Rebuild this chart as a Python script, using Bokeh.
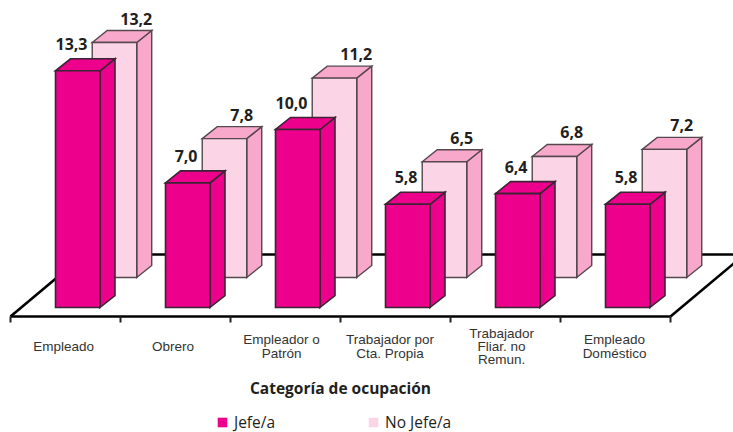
from bokeh.plotting import figure
from bokeh.models import Legend, LegendItem, Range1d
from bokeh.core.properties import value
from bokeh.embed import file_html
from bokeh.resources import INLINE

categories = ["Empleado", "Obrero", "Empleador o\nPatrón", "Trabajador por\nCta. Propia",
              "Trabajador\nFliar. no\nRemun.", "Empleado\nDoméstico"]
jefe = [13.3, 7.0, 10.0, 5.8, 6.4, 5.8]
no_jefe = [13.2, 7.8, 11.2, 6.5, 6.8, 7.2]
series_names = ["Jefe/a", "No Jefe/a"]
axis_title = "Categoría de ocupación"
label_centres = [0.482, 0.477, 0.464, 0.45, 0.464, 0.491]

W, H = 733, 432
PX_X, PX_Y = 110.0, 17.8      # pixels per category / per unit
X0_PX, Y0_PX = 10.0, 307.0    # window position of category 0 / value 0


def fx(px):
    return (px - X0_PX) / PX_X


def fy(py):
    return (Y0_PX - py) / PX_Y


DX, DY = 15 / PX_X, 12 / PX_Y
BAR_W = 44.5 / PX_X
FRONT_OFF, BACK_OFF = 0.409, 0.743
BACK_BASE = 30 / PX_Y

MAGENTA, MAGENTA_EDGE = "#EC008C", "#3B2433"
LIGHT, LIGHT_SIDE, LIGHT_EDGE = "#FBD5E6", "#F7A8CB", "#55474E"
INK = "#231F20"

p = figure(width=W, height=H, output_backend="svg", toolbar_location=None,
           x_range=Range1d(fx(0), fx(W)), y_range=Range1d(fy(H), fy(0)),
           x_axis_location=None, y_axis_location=None, min_border=0,
           outline_line_color=None)
p.grid.visible = False
p.background_fill_color = "white"

# floor
front_y, back_y = fy(316), fy(254)
n = len(categories)
floor_dx = 74 / PX_X
p.multi_line([[floor_dx, fx(750)], [0, n], [0, floor_dx], [n, n + floor_dx]],
             [[back_y, back_y], [front_y, front_y], [front_y, back_y], [front_y, back_y]],
             line_color="black", line_width=2.6)
p.segment(x0=list(range(n + 1)), y0=[front_y] * (n + 1), x1=list(range(n + 1)),
          y1=[fy(322)] * (n + 1), line_color="#222222", line_width=2)


def bars(vals, offset, base, face, side, top, edge, lw):
    xs_f, ys_f, xs_s, ys_s, xs_t, ys_t = [], [], [], [], [], []
    for i, v in enumerate(vals):
        l = i + offset
        r = l + BAR_W
        t = base + v
        xs_f.append([l, r, r, l])
        ys_f.append([base, base, t, t])
        xs_s.append([r, r + DX, r + DX, r])
        ys_s.append([base, base + DY, t + DY, t])
        xs_t.append([l, r, r + DX, l + DX])
        ys_t.append([t, t, t + DY, t + DY])
    for xs, ys, c in ((xs_s, ys_s, side), (xs_t, ys_t, top), (xs_f, ys_f, face)):
        p.patches(xs, ys, fill_color=c, line_color=edge, line_width=lw, line_join="miter")


bars(no_jefe, BACK_OFF, BACK_BASE, LIGHT, LIGHT_SIDE, LIGHT_SIDE, LIGHT_EDGE, 1.4)
bars(jefe, FRONT_OFF, 0.0, MAGENTA, MAGENTA, MAGENTA, MAGENTA_EDGE, 1.6)


def fmt(v):
    return f"{v:.1f}".replace(".", ",")


VAL_FONT = value("Open Sans")
p.text([i + FRONT_OFF for i in range(n)], jefe, text=[fmt(v) for v in jefe],
       x_offset=32, y_offset=-27, text_align="right", text_baseline="middle",
       text_font=VAL_FONT, text_font_style="bold", text_font_size="16px", text_color=INK)
p.text([i + BACK_OFF for i in range(n)], [BACK_BASE + v for v in no_jefe],
       text=[fmt(v) for v in no_jefe],
       x_offset=28, y_offset=-24, text_align="left", text_baseline="middle",
       text_font=VAL_FONT, text_font_style="bold", text_font_size="16px", text_color=INK)

# category labels, one text per line
lx, ly, lt = [], [], []
for i, c in enumerate(categories):
    lines = c.split("\n")
    for k, s in enumerate(lines):
        lx.append(i + label_centres[i])
        ly.append(fy(346 + (k - (len(lines) - 1) / 2) * 13.4))
        lt.append(s)
p.text(lx, ly, text=lt, text_align="center", text_baseline="middle",
       text_font=value("Liberation Sans"), text_font_size="13.5px", text_color="#333333")

p.text([fx(340)], [fy(387)], text=[axis_title], text_align="center", text_baseline="middle",
       text_font=VAL_FONT, text_font_style="bold", text_font_size="15.5px", text_color=INK)

# legend
nan = float("nan")
r1 = p.quad(left=[nan], right=[nan], top=[nan], bottom=[nan], fill_color=MAGENTA, line_color=None)
r2 = p.quad(left=[nan], right=[nan], top=[nan], bottom=[nan], fill_color=LIGHT, line_color=None)
legend = Legend(items=[LegendItem(label=series_names[0], renderers=[r1]),
                       LegendItem(label=series_names[1], renderers=[r2])],
                orientation="horizontal", location=(216, -1), spacing=92,
                glyph_width=12, glyph_height=12, label_standoff=6,
                border_line_color=None, background_fill_color=None, background_fill_alpha=0,
                margin=0, padding=2,
                label_text_font="Open Sans", label_text_font_size="15.5px",
                label_text_color=INK)
p.add_layout(legend, "center")

open("out.html", "w").write(file_html(p, INLINE))
